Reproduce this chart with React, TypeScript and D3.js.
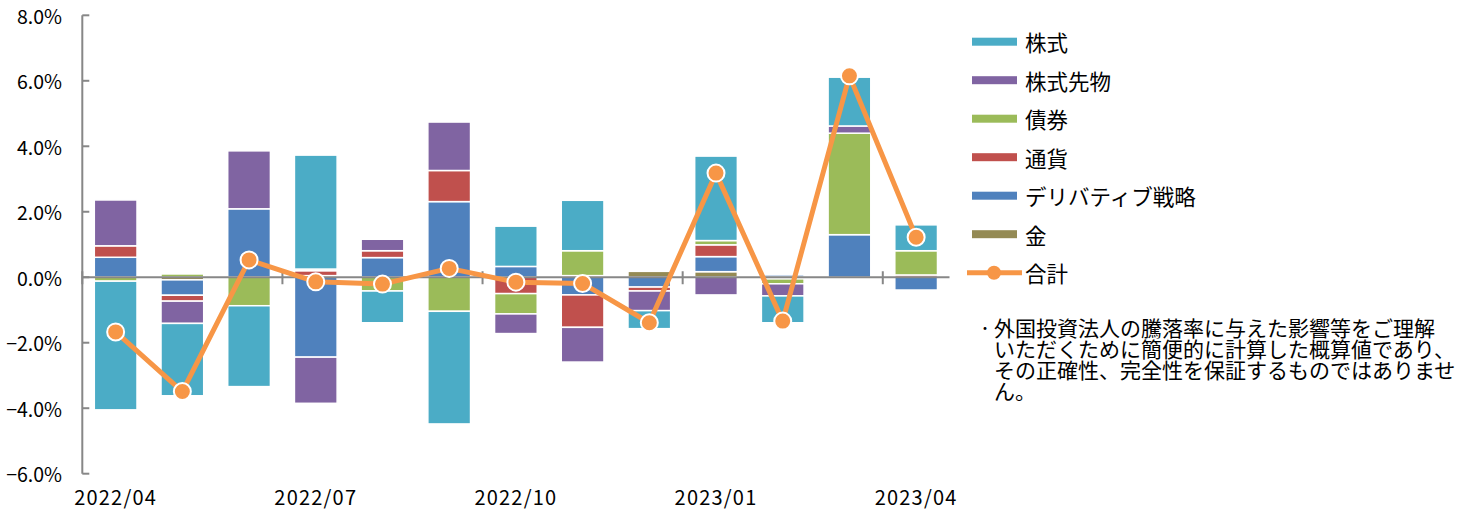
import React from 'react'
import * as d3 from 'd3'

const categories = ['2022/04', '2022/05', '2022/06', '2022/07', '2022/08', '2022/09', '2022/10', '2022/11', '2022/12', '2023/01', '2023/02', '2023/03', '2023/04']
const xTickLabels = ['2022/04', '2022/07', '2022/10', '2023/01', '2023/04']

// 株式
const stocks = [-3.93, -2.21, -2.47, 3.48, -0.97, -3.44, 1.23, 1.54, -0.55, 2.58, -0.82, 1.49, 0.79]
// 株式先物
const stockFutures = [1.4, -0.68, 1.77, -1.41, 0.35, 1.48, -0.6, -1.06, -0.6, -0.54, -0.37, 0.22, 0]
// 債券
const bonds = [-0.12, 0.1, -0.87, 0.05, -0.42, -1.04, -0.62, 0.76, 0, 0.13, -0.15, 3.1, 0.74]
// 通貨
const currency = [0.35, -0.18, 0, 0.15, 0.21, 0.95, -0.5, -0.99, -0.12, 0.36, -0.05, 0, 0.07]
// デリバティブ戦略
const derivatives = [0.61, -0.47, 2.09, -2.44, 0.6, 2.31, 0.33, -0.54, -0.3, 0.46, 0.07, 1.3, -0.39]
// 金
const gold = [0, -0.08, 0, 0.05, 0, 0, 0, 0.05, 0.18, 0.17, 0, 0, 0]
// 合計
const total = [-1.67, -3.49, 0.53, -0.14, -0.21, 0.27, -0.15, -0.19, -1.39, 3.18, -1.34, 6.15, 1.22]

const yTicks = [8, 6, 4, 2, 0, -2, -4, -6]

const series = [
  {key: '株式', values: stocks, color: '#4BACC6'},
  {key: '株式先物', values: stockFutures, color: '#8064A2'},
  {key: '債券', values: bonds, color: '#9BBB59'},
  {key: '通貨', values: currency, color: '#C0504D'},
  {key: 'デリバティブ戦略', values: derivatives, color: '#4F81BD'},
  {key: '金', values: gold, color: '#948A54'},
]
const lineColor = '#F79646'

const noteLines = [
  '外国投資法人の騰落率に与えた影響等をご理解',
  'いただくために簡便的に計算した概算値であり、',
  'その正確性、完全性を保証するものではありませ',
  'ん。',
]

const FONT = "'Noto Sans CJK JP', 'Noto Sans', sans-serif"
const AXIS = '#878787'

const App = () => {
  const width = 1462
  const height = 510

  const x = d3.scaleBand().domain(categories).range([82.3, 949.5]).paddingInner(0.36).paddingOuter(0.18)
  const y = d3.scaleLinear().domain([-6, 8]).range([473.7, 15.3])
  const fmt = d3.format('.1f')

  // stack order from zero outward: 金, デリバティブ, 通貨, 債券, 株式先物, 株式
  const stackKeys = [...series].reverse().map(s => s.key)
  const rows = categories.map((c, i) => {
    const r: any = {cat: c}
    series.forEach(s => { r[s.key] = s.values[i] })
    return r
  })
  const stacked = d3.stack().keys(stackKeys).offset(d3.stackOffsetDiverging)(rows)
  const colorOf = (k: string) => series.find(s => s.key === k)!.color

  const cx = (c: string) => x(c)! + x.bandwidth() / 2
  const line = d3.line<number>().x((_, i) => cx(categories[i])).y(d => y(d))

  const step = x.step()
  const boundaryTicks = [0, 3, 6, 9, 12].map(i => x.range()[0] + i * step)

  const legendY = (i: number) => 41.7 + i * 38.5

  return (
    <svg width={width} height={height} style={{position: 'absolute', left: 0, top: 0}} fontFamily={FONT}>
      <rect width={width} height={height} fill="#fff" />

      {/* bars */}
      {stacked.map(layer => (
        <g key={layer.key} fill={colorOf(layer.key)}>
          {layer.map((d, i) => {
            const h = Math.abs(y(d[0]) - y(d[1]))
            if (h < 0.01) return null
            return (
              <rect key={i} x={x(categories[i])} y={Math.min(y(d[0]), y(d[1]))} width={x.bandwidth()} height={h}
                stroke="#fff" strokeWidth={1.5} />
            )
          })}
        </g>
      ))}

      {/* y axis */}
      <line x1={82.3} x2={82.3} y1={y(8)} y2={y(-6)} stroke={AXIS} strokeWidth={2} />
      {yTicks.map(t => (
        <g key={t}>
          <line x1={82.3} x2={89.3} y1={y(t)} y2={y(t)} stroke={AXIS} strokeWidth={2} />
          <text x={62} y={y(t)} textAnchor="end" dominantBaseline="central" fontSize={19.5} fill="#000">{fmt(t)}%</text>
        </g>
      ))}

      {/* x axis at zero */}
      <line x1={82.3} x2={949.5} y1={y(0)} y2={y(0)} stroke={AXIS} strokeWidth={2} />
      {boundaryTicks.map((bx, i) => (
        <line key={i} x1={bx} x2={bx} y1={y(0) - 6} y2={y(0) + 7} stroke={AXIS} strokeWidth={2} />
      ))}
      {xTickLabels.map(l => (
        <text key={l} x={cx(l)} y={505} textAnchor="middle" fontSize={20} letterSpacing={1.2} fill="#000">{l}</text>
      ))}

      {/* total line */}
      <path d={line(total)!} fill="none" stroke={lineColor} strokeWidth={5} strokeLinejoin="round" />
      {total.map((v, i) => (
        <circle key={i} cx={cx(categories[i])} cy={y(v)} r={8.5} fill={lineColor} stroke="#fff" strokeWidth={2} />
      ))}

      {/* legend */}
      {series.map((s, i) => (
        <g key={s.key}>
          <rect x={972} y={legendY(i) - 4} width={45} height={8} fill={s.color} />
          <text x={1025} y={legendY(i)} dominantBaseline="central" fontSize={21.5} fill="#000">{s.key}</text>
        </g>
      ))}
      <g>
        <line x1={967} x2={1022} y1={legendY(6)} y2={legendY(6)} stroke={lineColor} strokeWidth={5} />
        <circle cx={994} cy={legendY(6)} r={7} fill={lineColor} />
        <text x={1025} y={legendY(6)} dominantBaseline="central" fontSize={21.5} fill="#000">合計</text>
      </g>

      {/* note */}
      <text x={978} y={327} dominantBaseline="central" fontSize={14} fill="#000">・</text>
      {noteLines.map((l, i) => (
        <text key={i} x={994} y={327 + i * 21} dominantBaseline="central" fontSize={21} fill="#000">{l}</text>
      ))}
    </svg>
  )
}

export default App
